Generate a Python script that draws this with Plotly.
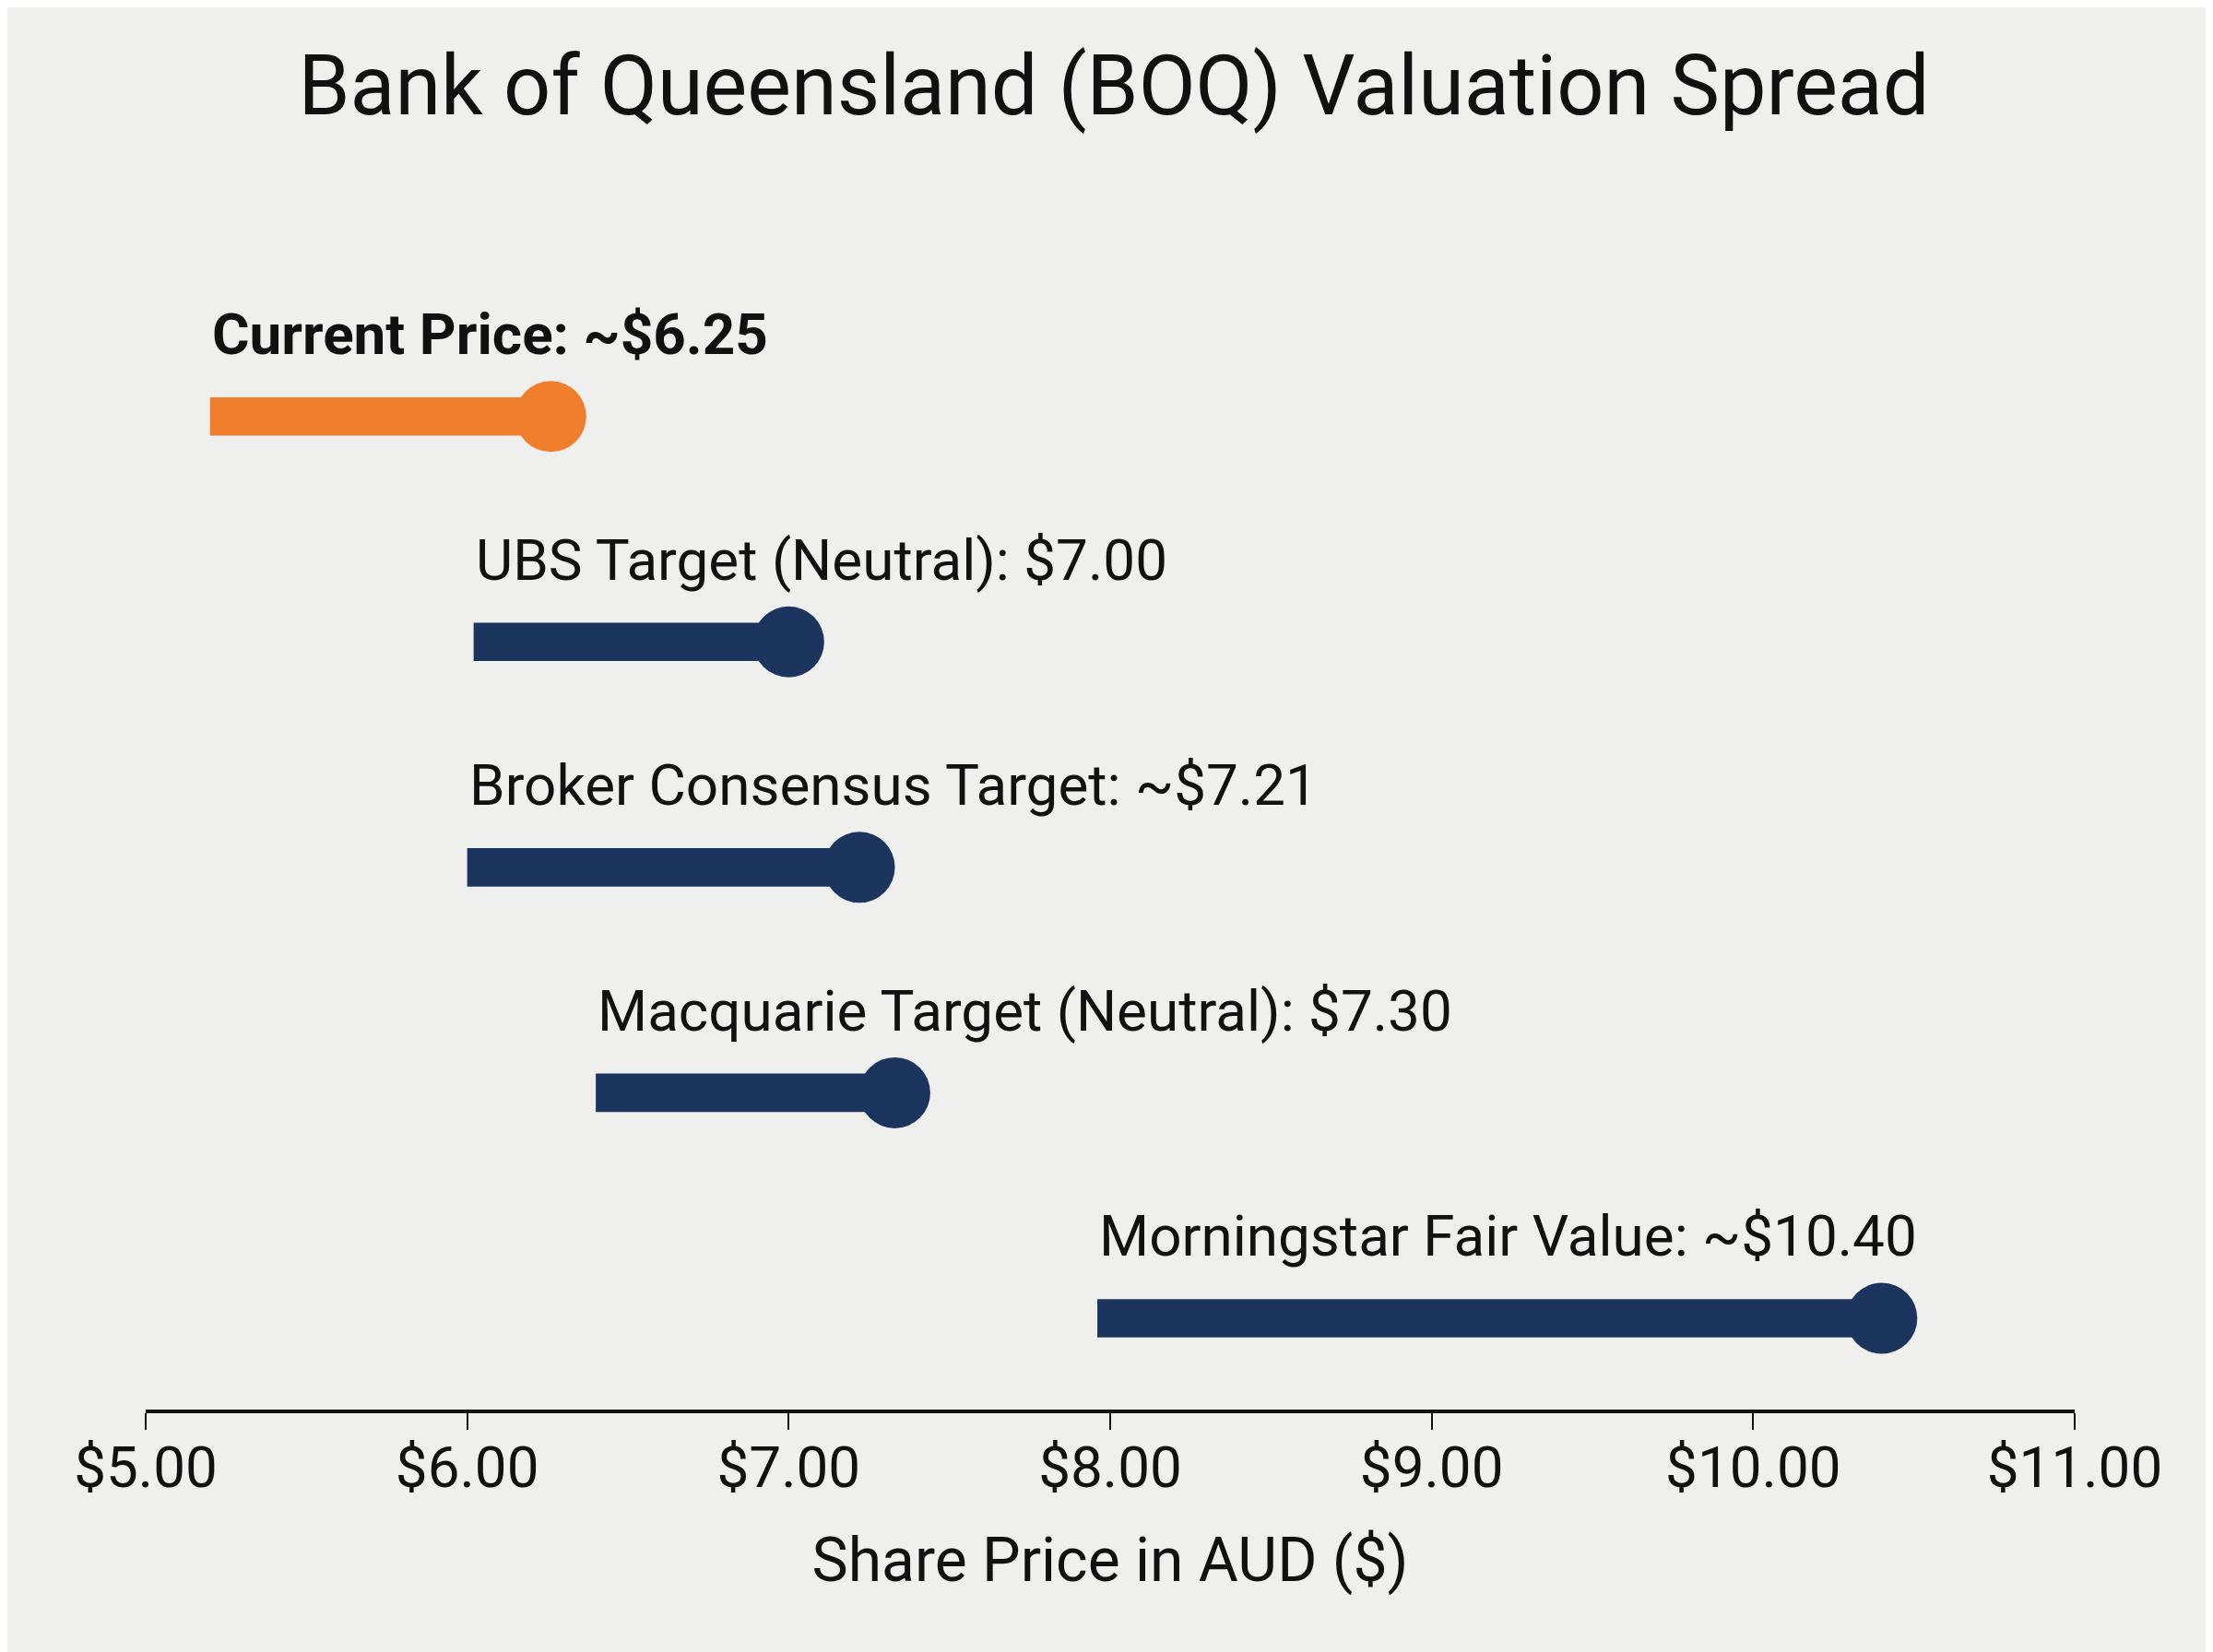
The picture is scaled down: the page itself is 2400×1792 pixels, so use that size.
import plotly.graph_objects as go

# Valuation points (AUD)
labels = [
    "Current Price: ~$6.25",
    "UBS Target (Neutral): $7.00",
    "Broker Consensus Target: ~$7.21",
    "Macquarie Target (Neutral): $7.30",
    "Morningstar Fair Value: ~$10.40",
]
bar_start = [5.2, 6.02, 6.0, 6.4, 7.96]
bar_end = [6.26, 7.0, 7.22, 7.33, 10.4]
colors = ["#EF7F2D", "#1B355F", "#1B355F", "#1B355F", "#1B355F"]
tick_vals = [5, 6, 7, 8, 9, 10, 11]
tick_text = ["$5.00", "$6.00", "$7.00", "$8.00", "$9.00", "$10.00", "$11.00"]

# first row on top
rows = list(range(len(labels)))[::-1]

fig = go.Figure()

fig.add_trace(go.Bar(
    y=rows,
    x=[e - s for s, e in zip(bar_start, bar_end)],
    base=bar_start,
    orientation="h",
    width=0.17,
    marker=dict(color=colors, line=dict(width=0)),
    showlegend=False,
    hoverinfo="skip",
))

fig.add_trace(go.Scatter(
    x=bar_end,
    y=rows,
    mode="markers",
    marker=dict(size=77, color=colors, line=dict(width=0)),
    showlegend=False,
))

for i, txt in enumerate(labels):
    bold = i == 0
    fig.add_annotation(
        x=bar_start[i], y=rows[i],
        text=f"<b>{txt}</b>" if bold else txt,
        showarrow=False,
        xanchor="left", yanchor="middle",
        xshift=0, yshift=89,
        font=dict(size=62, color="#111111", family="Roboto"),
    )

fig.update_layout(
    width=2400, height=1792,
    paper_bgcolor="#EFEFEE",
    plot_bgcolor="#EFEFEE",
    font=dict(family="Roboto", color="#111111"),
    title=dict(
        text="Bank of Queensland (BOQ) Valuation Spread",
        x=0.5, xanchor="center",
        y=0.953, yanchor="middle",
        font=dict(size=90, color="#111111"),
    ),
    margin=dict(l=150, r=158, t=297, b=271),
    xaxis=dict(
        range=[5, 11],
        tickvals=tick_vals,
        ticktext=tick_text,
        showgrid=False, zeroline=False,
        showline=True, linecolor="#111111", linewidth=4,
        ticks="outside", ticklen=18, tickwidth=2, tickcolor="#111111",
        tickfont=dict(size=62),
        ticklabelstandoff=-12,
        title=dict(text="Share Price in AUD ($)", font=dict(size=66), standoff=42),
    ),
    yaxis=dict(
        range=[-0.405, 4.6],
        showticklabels=False, showgrid=False, zeroline=False, showline=False,
    ),
)

fig.write_html("out.html")
